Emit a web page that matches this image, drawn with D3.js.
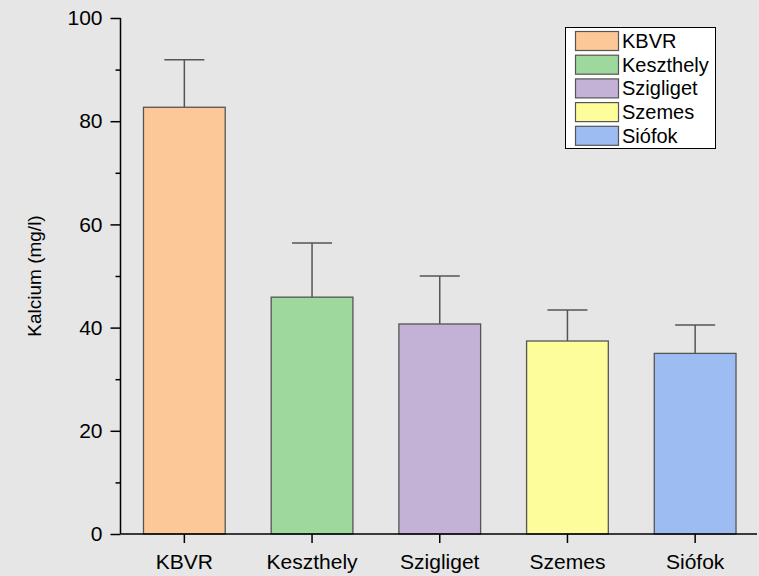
<!DOCTYPE html>
<html>
<head>
<meta charset="utf-8">
<script src="https://cdn.jsdelivr.net/npm/d3@7"></script>
<style>
  html, body { margin: 0; padding: 0; background: #e6e6e6; }
  svg { display: block; font-family: "Liberation Sans", Arial, sans-serif; }
</style>
</head>
<body>
<svg id="chart" width="759" height="576"></svg>
<script>
// Calcium concentration by sampling site (mean and upper error)
const sites = ["KBVR", "Keszthely", "Szigliget", "Szemes", "Siófok"];
const means = [82.7, 45.9, 40.7, 37.4, 35.0];
const errors = [9.2, 10.5, 9.3, 6.0, 5.5];
const colors = ["#fdc897", "#9ed89c", "#c3b2d6", "#fefd9c", "#9cbcf2"];
const yTicks = [0, 20, 40, 60, 80, 100];
const yMinorTicks = [10, 30, 50, 70, 90];
const yLabel = "Kalcium (mg/l)";

const FONT = "'Liberation Sans', Arial, sans-serif";
const svg = d3.select("#chart");
const W = 759, H = 576;
svg.append("rect").attr("width", W).attr("height", H).attr("fill", "#e6e6e6");

const x = d3.scaleBand().domain(sites).range([120.5, 759]).paddingInner(0.36).paddingOuter(0.18);
const y = d3.scaleLinear().domain([0, 100]).range([534, 18]);

const data = sites.map((s, i) => ({ site: s, mean: means[i], err: errors[i], color: colors[i] }));

// bars
svg.append("g").selectAll("rect").data(data).join("rect")
  .attr("x", d => x(d.site))
  .attr("y", d => y(d.mean))
  .attr("width", x.bandwidth())
  .attr("height", d => y(0) - y(d.mean))
  .attr("fill", d => d.color)
  .attr("stroke", "#555")
  .attr("stroke-width", 1.3);

// error bars (upper only)
const eb = svg.append("g").attr("stroke", "#555").attr("stroke-width", 1.5);
data.forEach(d => {
  const cx = x(d.site) + x.bandwidth() / 2;
  eb.append("line").attr("x1", cx).attr("x2", cx).attr("y1", y(d.mean)).attr("y2", y(d.mean + d.err));
  eb.append("line").attr("x1", cx - 20).attr("x2", cx + 20).attr("y1", y(d.mean + d.err)).attr("y2", y(d.mean + d.err));
});

// y axis
const yAxis = svg.append("g").attr("transform", "translate(120.5,0)")
  .call(d3.axisLeft(y).tickValues(yTicks).tickSize(10).tickPadding(8).tickFormat(d3.format("d")));
yAxis.select(".domain").attr("stroke", "#000").attr("stroke-width", 1.5).attr("d", `M-0,${y(100)}V${y(0)}`);
yAxis.selectAll(".tick line").attr("stroke", "#000").attr("stroke-width", 1.5);
yAxis.selectAll(".tick text").attr("font-size", 21).attr("fill", "#000").attr("font-family", FONT);
svg.append("g").attr("transform", "translate(120.5,0)")
  .call(d3.axisLeft(y).tickValues(yMinorTicks).tickSize(5).tickFormat(""))
  .call(g => g.select(".domain").remove())
  .selectAll(".tick line").attr("stroke", "#000").attr("stroke-width", 1.5);

// x axis
const xAxis = svg.append("g").attr("transform", `translate(0,${y(0)})`)
  .call(d3.axisBottom(x).tickSize(9).tickPadding(11));
xAxis.select(".domain").attr("stroke", "#000").attr("stroke-width", 1.5).attr("d", `M120.5,0H757`);
xAxis.selectAll(".tick line").attr("stroke", "#000").attr("stroke-width", 1.5);
xAxis.selectAll(".tick text").attr("font-size", 21).attr("fill", "#000").attr("font-family", FONT);

// y label
svg.append("text")
  .attr("transform", "translate(41,276) rotate(-90)")
  .attr("text-anchor", "middle")
  .attr("font-size", 19)
  .attr("font-family", FONT)
  .attr("fill", "#000")
  .text(yLabel);

// legend
const lg = svg.append("g");
lg.append("rect").attr("x", 565.5).attr("y", 27.5).attr("width", 150).attr("height", 121)
  .attr("fill", "#fff").attr("stroke", "#000").attr("stroke-width", 1);
data.forEach((d, i) => {
  const ry = 31 + i * 23.7;
  lg.append("rect").attr("x", 575.5).attr("y", ry + 0.5).attr("width", 43).attr("height", 19)
    .attr("fill", d.color).attr("stroke", "#555").attr("stroke-width", 1.2);
  lg.append("text").attr("x", 622).attr("y", ry + 17).attr("font-size", 20)
    .attr("font-family", FONT).attr("fill", "#000").text(d.site);
});
</script>
</body>
</html>
